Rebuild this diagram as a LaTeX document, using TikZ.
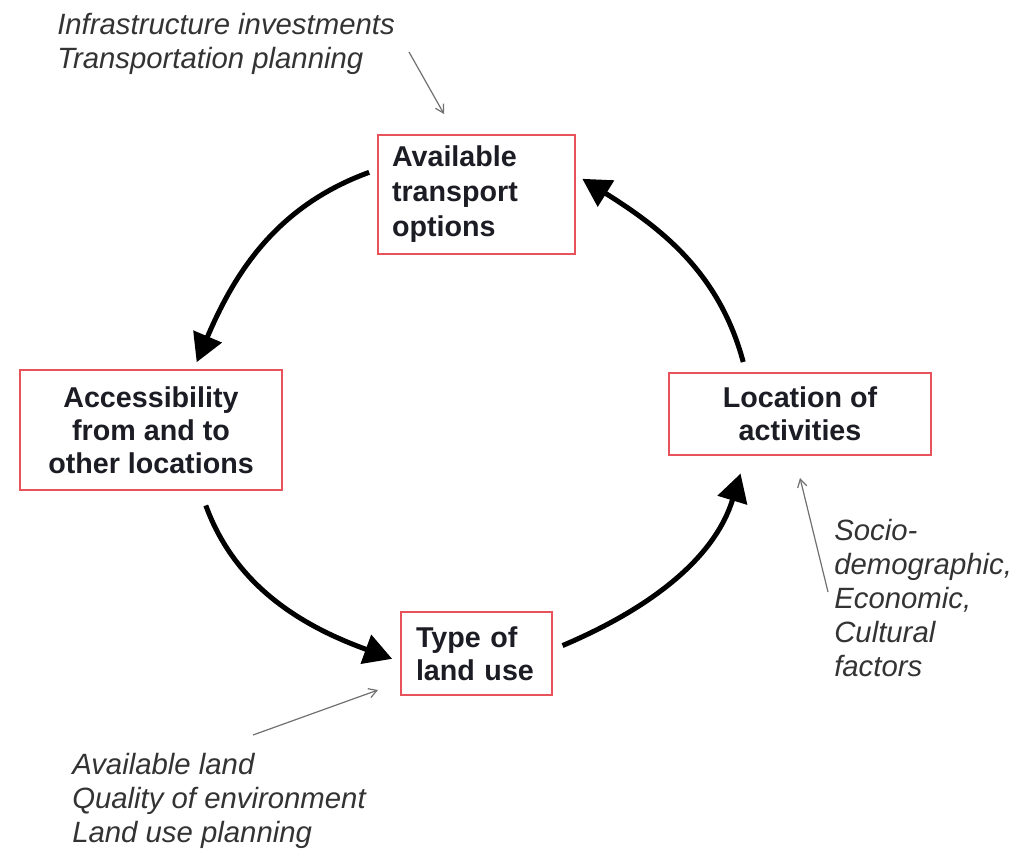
\documentclass[tikz,border=0pt]{standalone}
\usepackage{fontspec}
\setmainfont{Liberation Sans}
\usetikzlibrary{arrows.meta}

\definecolor{boxred}{HTML}{E8525A}
\definecolor{inktext}{HTML}{1C1C24}
\definecolor{notegray}{HTML}{333333}
\definecolor{pointgray}{HTML}{707070}

\begin{document}
\begin{tikzpicture}[x=0.75pt, y=0.75pt]%
            \tikzstyle{box}=[draw=boxred, line width=2pt, fill=white, text=inktext, font=\bfseries\fontsize{21.5}{24.75}\selectfont];%
            \tikzstyle{leftbox}=[box, align=left, inner ysep=0pt];%
            \tikzstyle{midbox}=[box, align=center, inner sep=0pt];%
            \tikzstyle{note}=[anchor=north west, inner sep=0pt, align=left, text=notegray, font=\itshape\fontsize{22}{25.5}\selectfont];%
            \tikzstyle{cycle}=[line width=3.75pt, -{Triangle[length=21pt, width=22.5pt]}];%
            \tikzstyle{hint}=[draw=pointgray, line width=0.9pt, -{Straight Barb[length=6pt, width=7pt]}];%
            \useasboundingbox (0, 0) rectangle (1030, 849);

            % the four boxes of the cycle
            \node (transport) at (476.5, 654.5) [leftbox, text width=126.75pt, inner xsep=10.5pt, minimum height=89.25pt, font=\bfseries\fontsize{21.5}{26.25}\selectfont] {Available\\transport\\options};
            \node (access) at (151, 419) [midbox, minimum width=196.5pt, minimum height=90pt] {Accessibility\\from and to\\other locations};
            \node (landuse) at (476.5, 195.5) [leftbox, text width=90.75pt, inner xsep=11.25pt, minimum height=62.25pt] {Type of\\land use};
            \node (location) at (800, 435) [midbox, minimum width=196.5pt, minimum height=61.5pt] {Location of\\activities};

            \draw (transport.166) edge[out=200, in=67, cycle, shorten <=6pt, shorten >=5.25pt] (access.55);
            \draw (access.-51) edge[out=-70, in=160, cycle, shorten <=11.25pt, shorten >=6pt] (landuse.186);
            \draw (landuse.3) edge[out=23, in=-107, cycle, shorten <=7.5pt, shorten >=13.5pt] (location.218);
            \draw (location.142) edge[out=105, in=-32, cycle, shorten <=7.5pt, shorten >=5.25pt] (transport.11);

            % outside influences
            \node (infra) at (57, 836) [note] {Infrastructure investments\\Transportation planning};
            \node (socio) at (834, 330) [note] {Socio-\\demographic,\\Economic,\\Cultural\\factors};
            \node (land) at (72, 96) [note] {Available land\\Quality of environment\\Land use planning};

            \coordinate (infratail) at (409, 797);
            \coordinate (infratip) at (444, 735);
            \coordinate (sociotail) at (828, 257);
            \coordinate (sociotip) at (800, 371);
            \coordinate (landtail) at (253, 114);
            \coordinate (landtip) at (378, 159);
            \draw[hint] (infratail) -- (infratip);
            \draw[hint] (sociotail) -- (sociotip);
            \draw[hint] (landtail) -- (landtip);
        \end{tikzpicture}
\end{document}
